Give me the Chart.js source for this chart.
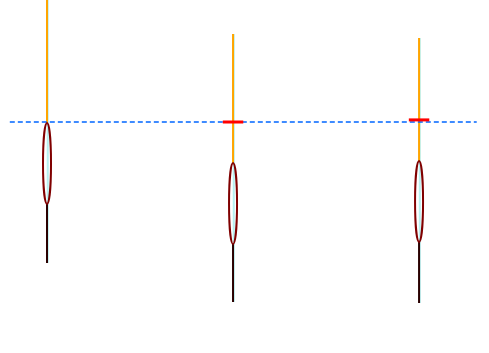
<!DOCTYPE html>
<html>
<head>
<meta charset="utf-8">
<script src="https://cdn.jsdelivr.net/npm/chart.js@4"></script>
<style>
  body { margin: 0; background: #fff; }
</style>
</head>
<body>
<canvas id="chart" width="489" height="353"></canvas>
<script>
// candle positions and values
const positions = [0, 1, 2];
const highs = [142, 129.3, 128];
const lows = [53, 40, 39.7];
const bodyTops = [99.7, 86.3, 87];
const bodyBottoms = [72.7, 59.3, 60];
const marks = [null, 100, 100.7];
const level = 100;
const levelRange = [-0.2, 2.31];

const datasets = [];
positions.forEach((x, i) => {
  datasets.push({
    data: [{ x: x + 0.004, y: highs[i] }, { x: x + 0.004, y: lows[i] }],
    borderColor: "rgba(175, 238, 238, 0.9)",
    borderWidth: 2,
    order: 5
  });
  datasets.push({
    data: [{ x: x, y: highs[i] }, { x: x, y: bodyTops[i] }],
    borderColor: "#FFA500",
    borderWidth: 2,
    order: 4
  });
  datasets.push({
    data: [{ x: x, y: bodyBottoms[i] }, { x: x, y: lows[i] }],
    borderColor: "#2a0000",
    borderWidth: 2,
    order: 4
  });
  if (marks[i] !== null) {
    datasets.push({
      data: [{ x: x - 0.055, y: marks[i] }, { x: x + 0.055, y: marks[i] }],
      borderColor: "#FF0000",
      borderWidth: 3,
      order: 1
    });
  }
});
datasets.push({
  data: [{ x: levelRange[0], y: level }, { x: levelRange[1], y: level }],
  borderColor: "#0066FF",
  borderWidth: 1.5,
  borderDash: [5, 3],
  order: 2
});

// draws the body as an ellipse between top and bottom values
const bodies = {
  id: "bodies",
  afterDatasetsDraw(chart) {
    const { ctx, scales } = chart;
    ctx.save();
    ctx.strokeStyle = "#800000";
    ctx.lineWidth = 2;
    positions.forEach((x, i) => {
      const cx = scales.x.getPixelForValue(x);
      const top = scales.y.getPixelForValue(bodyTops[i]);
      const bottom = scales.y.getPixelForValue(bodyBottoms[i]);
      ctx.beginPath();
      ctx.ellipse(cx, (top + bottom) / 2, 4, (bottom - top) / 2, 0, 0, Math.PI * 2);
      ctx.stroke();
    });
    ctx.restore();
  }
};

new Chart(document.getElementById("chart"), {
  type: "line",
  data: { datasets: datasets },
  options: {
    responsive: false,
    animation: false,
    layout: { padding: 0 },
    elements: { point: { radius: 0 } },
    plugins: { legend: { display: false }, tooltip: { enabled: false } },
    scales: {
      x: { type: "linear", display: false, min: -0.2527, max: 2.376 },
      y: { type: "linear", display: false, min: 23, max: 140.67 }
    }
  },
  plugins: [bodies]
});
</script>
</body>
</html>
